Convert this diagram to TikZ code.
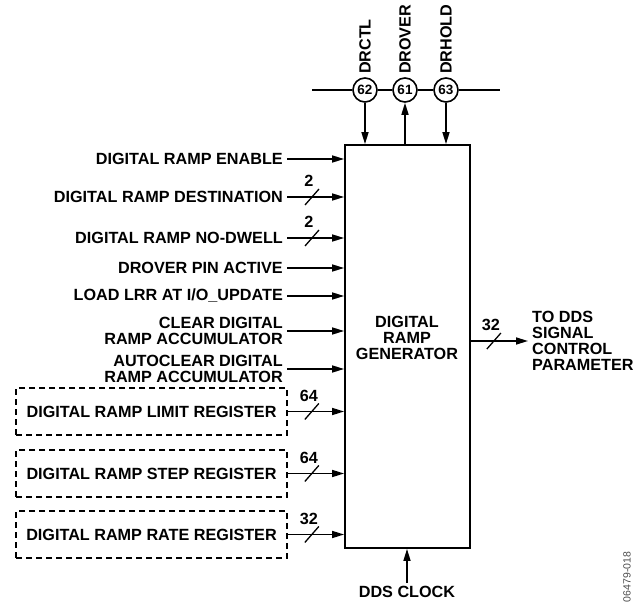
\documentclass[tikz,border=0pt]{standalone}
\usepackage{fontspec}
\setmainfont{Liberation Sans}
\usetikzlibrary{arrows.meta, positioning, calc}

\tikzset{
  sig/.style={->, line width=1.6pt},
  lbl/.style={font=\bfseries\fontsize{16.2}{16}\selectfont, inner sep=3pt},
  inlbl/.style={lbl, anchor=east, align=right, inner sep=4pt},
  regbox/.style={lbl, draw, line width=1.6pt, dash pattern=on 6pt off 4pt,
                 minimum width=271pt, minimum height=47pt},
  pinnum/.style={draw, circle, line width=1.6pt, fill=white, minimum size=24pt,
                 inner sep=0pt, font=\bfseries\fontsize{13.5}{14}\selectfont},
  pinlbl/.style={lbl, rotate=90, anchor=west},
  pics/bus/.style={code={
    \draw[line width=1.3pt] (-7,8) -- (7,-8);
    \node[lbl] at (-3,-16) {#1};
  }},
}

\begin{document}
\begin{tikzpicture}[x=1pt, y=-1pt, >={Triangle[length=12pt, width=7pt]}]
  \useasboundingbox (0,0) rectangle (641,602);

  % Ramp generator block
  \node[draw, line width=1.8pt, minimum width=125pt, minimum height=403pt] (gen) at (407.5,346.5) {};
  \node[lbl, align=center] (genlbl) at (407,338) {DIGITAL\\RAMP\\GENERATOR};

  % Pins on the top bus
  \coordinate (busl) at (312,90);
  \coordinate (busr) at (500,90);
  \node[pinnum] (p62) at (365,90) {62};
  \node[pinnum] (p61) at (405,90) {61};
  \node[pinnum] (p63) at (446,90) {63};
  \draw[line width=1.6pt] (busl) -- (p62) -- (p61) -- (p63) -- (busr);
  \node[pinlbl] (drctl) at (p62.north) {DRCTL};
  \node[pinlbl] (drover) at (p61.north) {DROVER};
  \node[pinlbl] (drhold) at (p63.north) {DRHOLD};
  \draw[sig] (p62) -- (p62 |- gen.north);
  \draw[sig] (p61 |- gen.north) -- (p61);
  \draw[sig] (p63) -- (p63 |- gen.north);

  % Control inputs
  \node[inlbl] (enable) at (287,159) {DIGITAL RAMP ENABLE};
  \node[inlbl] (dest) at (287,197) {DIGITAL RAMP DESTINATION};
  \node[inlbl] (nodwell) at (287,238) {DIGITAL RAMP NO-DWELL};
  \node[inlbl] (drpin) at (287,268) {DROVER PIN ACTIVE};
  \node[inlbl] (loadlrr) at (287,296) {LOAD LRR AT I/O\_UPDATE};
  \node[inlbl] (clracc) at (287,331) {CLEAR DIGITAL\\RAMP ACCUMULATOR};
  \node[inlbl] (autoclr) at (287,369) {AUTOCLEAR DIGITAL\\RAMP ACCUMULATOR};
  \draw[sig] (enable.east) -- (enable.east -| gen.west);
  \draw[sig] (dest.east) -- (dest.east -| gen.west);
  \draw[sig] (nodwell.east) -- (nodwell.east -| gen.west);
  \draw[sig] (drpin.east) -- (drpin.east -| gen.west);
  \draw[sig] (loadlrr.east) -- (loadlrr.east -| gen.west);
  \draw[sig] (clracc.east) -- (clracc.east -| gen.west);
  \draw[sig] (autoclr.east) -- (autoclr.east -| gen.west);
  \pic at ([xshift=25pt]dest.east) {bus=2};
  \pic at ([xshift=25pt]nodwell.east) {bus=2};

  % Registers (dashed)
  \node[regbox] (limreg) at (151.5,411.5) {DIGITAL RAMP LIMIT REGISTER};
  \node[regbox] (stepreg) at (151.5,473.5) {DIGITAL RAMP STEP REGISTER};
  \node[regbox] (ratereg) at (151.5,534.5) {DIGITAL RAMP RATE REGISTER};
  \draw[sig] (limreg.east) -- (limreg.east -| gen.west);
  \draw[sig] (stepreg.east) -- (stepreg.east -| gen.west);
  \draw[sig] (ratereg.east) -- (ratereg.east -| gen.west);
  \pic at ([xshift=24pt]limreg.east) {bus=64};
  \pic at ([xshift=24pt]stepreg.east) {bus=64};
  \pic at ([xshift=24pt]ratereg.east) {bus=32};

  % Output
  \node[lbl, align=left, anchor=west, inner sep=4pt] (ddsout) at (528,341) {TO DDS\\SIGNAL\\CONTROL\\PARAMETER};
  \coordinate (outbus) at (gen.east |- ddsout.west);
  \draw[sig] (outbus) -- (ddsout.west);
  \pic at ([xshift=23pt]outbus) {bus=32};

  % Clock
  \node[lbl] (clk) at (407,592) {DDS CLOCK};
  \draw[sig] (clk.north) -- (clk.north |- gen.south);

  % Figure id
  \node[font=\fontsize{10.5}{11}\selectfont, text=black!70, rotate=90] (figid) at (627,577) {06479-018};
\end{tikzpicture}
\end{document}
